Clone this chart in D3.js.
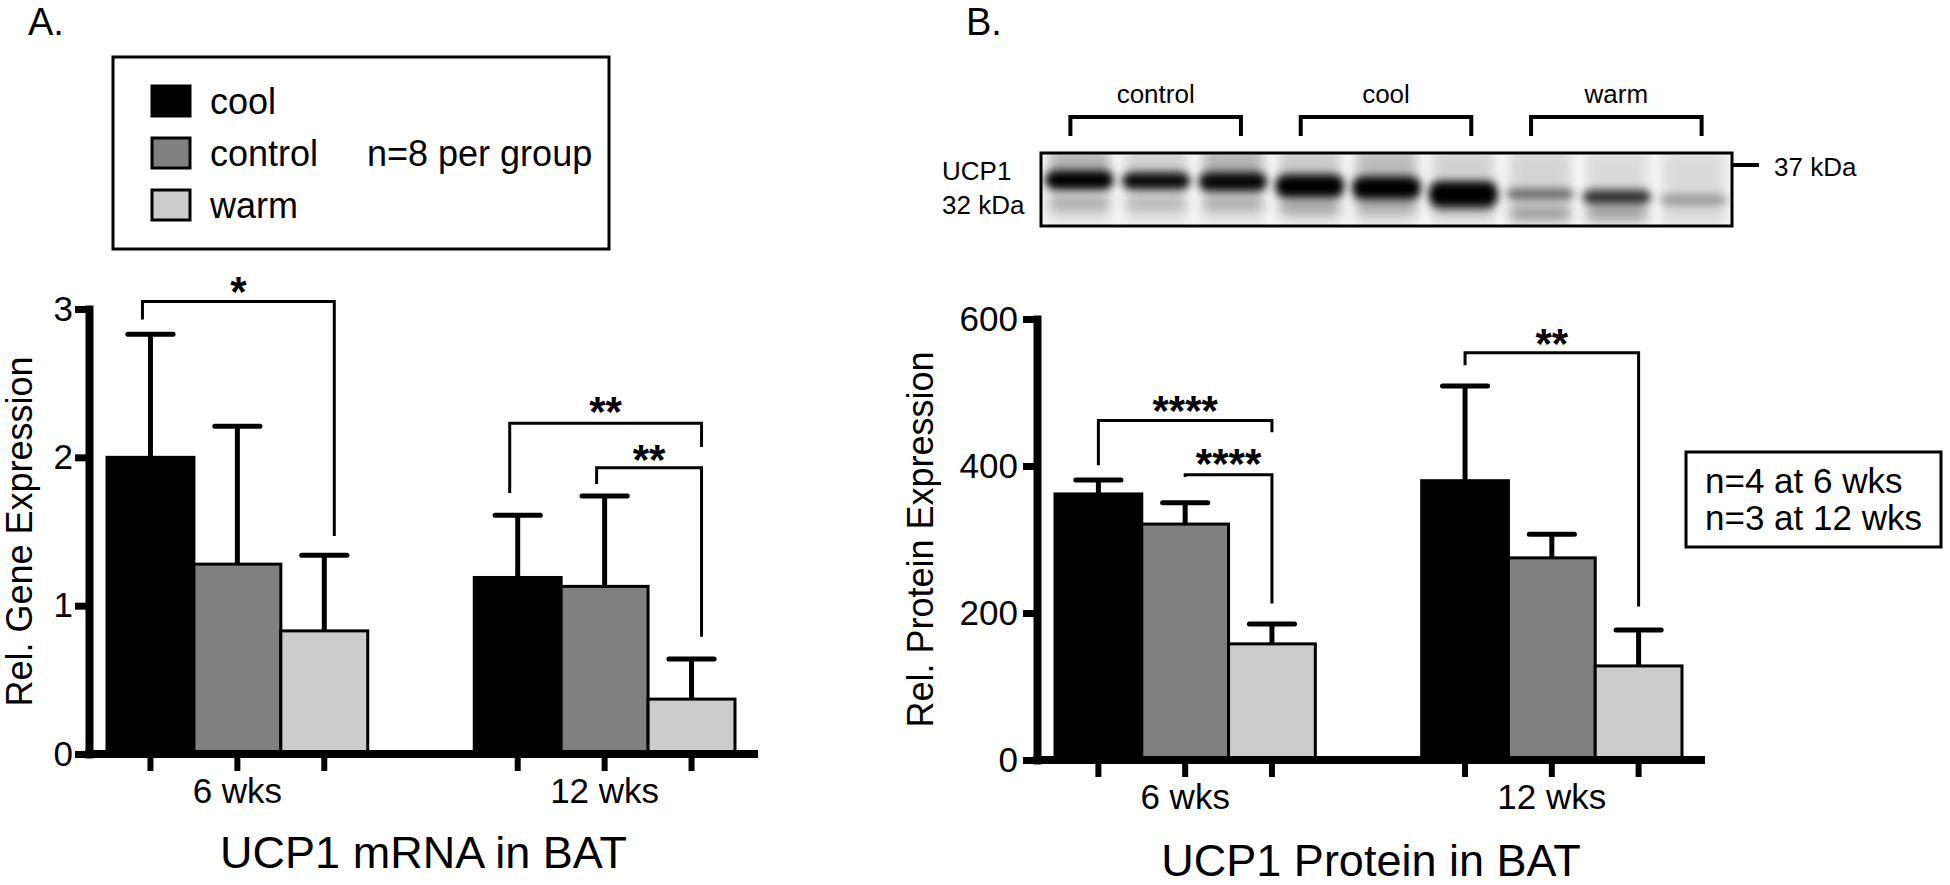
<!DOCTYPE html>
<meta charset="utf-8">
<html>

<head>
  <title>UCP1 in BAT</title>
  <style>
    body { margin: 0; background: #fff; }
    svg text { font-family: "Liberation Sans", Arial, Helvetica, sans-serif; fill: #000; }
  </style>
</head>

<body>
  <script src="https://d3js.org/d3.v7.min.js"></script>

  <div id="chart"></div>

  <script>
    // groups and treatments (same order in both panels)
    var groups = ["6 wks", "12 wks"];
    var conditions = ["cool", "control", "warm"];

    // A. UCP1 mRNA, mean and SEM ([6 wks], [12 wks])
    var mrnaMean = [[2.0, 1.28, 0.83], [1.19, 1.13, 0.37]];
    var mrnaSem = [[0.83, 0.93, 0.51], [0.42, 0.61, 0.27]];
    var mrnaTicks = [0, 1, 2, 3];

    // B. UCP1 protein
    var protMean = [[362, 321, 158], [380, 275, 128]];
    var protSem = [[19, 29, 27], [129, 32, 49]];
    var protTicks = [0, 200, 400, 600];

    // significance brackets (heights in data units)
    var mrnaSig = [
      { g: "6 wks", a: "cool", b: "warm", top: 3.05, endA: 2.93, endB: 1.47, star: 3.18, label: "*" },
      { g: "12 wks", a: "cool", b: "warm", top: 2.23, endA: 1.76, endB: 2.07, star: 2.37, label: "**" },
      { g: "12 wks", a: "control", b: "warm", top: 1.93, endA: 1.82, endB: 0.79, star: 2.05, label: "**" }
    ];
    var protSig = [
      { g: "6 wks", a: "cool", b: "warm", top: 462, endA: 401, endB: 446, star: 489, label: "****" },
      { g: "6 wks", a: "control", b: "warm", top: 388, endA: 385, endB: 213, star: 417, label: "****" },
      { g: "12 wks", a: "cool", b: "warm", top: 554, endA: 537, endB: 209, star: 579, label: "**" }
    ];

    // western blot lanes (apparent kDa of bands, relative darkness)
    var blotGroups = ["control", "cool", "warm"];
    var laneGroup = ["control", "control", "control", "cool", "cool", "cool", "warm", "warm", "warm"];
    var bandKda = [32.3, 32.0, 31.7, 30.4, 29.8, 27.9, 27.9, 27.0, 26.1];
    var bandSpread = [6.0, 5.4, 6.0, 7.2, 7.2, 8.0, 3.4, 4.6, 3.4];
    var bandDark = [1.0, 0.95, 0.97, 1.0, 1.0, 1.0, 0.55, 0.78, 0.32];
    var lowKda = [25.0, 25.0, 25.0, 24.0, 24.0, 24.0, 22.0, 22.0, 22.0];
    var lowDark = [0.3, 0.24, 0.3, 0.34, 0.32, 0.3, 0.38, 0.36, 0.06];
    var smearDark = [0.34, 0.14, 0.34, 0.18, 0.28, 0.12, 0.1, 0.06, 0.06];

    var svg = d3.select("#chart")
      .append("svg")
      .attr("width", 1950)
      .attr("height", 885);

    var fillColor = d3.scaleOrdinal().domain(conditions).range(["#000000", "#808080", "#cccccc"]);

    function drawPanel(p) {
      var g = svg.append("g");

      var y = d3.scaleLinear()
        .domain([0, p.ticks[p.ticks.length - 1]])
        .range([p.bottom, p.top]);
      var x0 = d3.scaleBand()
        .domain(groups)
        .range([p.left + 18, p.right - 23])
        .paddingInner(0.29);
      var x1 = d3.scaleBand()
        .domain(conditions)
        .range([0, x0.bandwidth()]);

      var rows = [];
      groups.forEach(function (gr, i) {
        conditions.forEach(function (c, j) {
          rows.push({ g: gr, c: c, m: p.mean[i][j], s: p.sem[i][j] });
        });
      });
      function cx(gr, c) { return x0(gr) + x1(c) + x1.bandwidth() / 2; }

      // bars
      g.selectAll("rect.bar")
        .data(rows)
        .enter()
        .append("rect")
        .attr("class", "bar")
        .attr("x", function (d) { return x0(d.g) + x1(d.c); })
        .attr("width", x1.bandwidth())
        .attr("y", function (d) { return y(d.m); })
        .attr("height", function (d) { return p.bottom - y(d.m); })
        .attr("fill", function (d) { return fillColor(d.c); })
        .attr("stroke", "#000")
        .attr("stroke-width", 3);

      // error bars (upper only)
      g.selectAll("line.stem")
        .data(rows)
        .enter()
        .append("line")
        .attr("x1", function (d) { return cx(d.g, d.c); })
        .attr("x2", function (d) { return cx(d.g, d.c); })
        .attr("y1", function (d) { return y(d.m); })
        .attr("y2", function (d) { return y(d.m + d.s); })
        .attr("stroke", "#000")
        .attr("stroke-width", 5);
      g.selectAll("line.cap")
        .data(rows)
        .enter()
        .append("line")
        .attr("x1", function (d) { return cx(d.g, d.c) - x1.bandwidth() * 0.26; })
        .attr("x2", function (d) { return cx(d.g, d.c) + x1.bandwidth() * 0.26; })
        .attr("y1", function (d) { return y(d.m + d.s); })
        .attr("y2", function (d) { return y(d.m + d.s); })
        .attr("stroke", "#000")
        .attr("stroke-width", 5)
        .attr("stroke-linecap", "round");

      // y axis
      var yAxis = g.append("g")
        .attr("transform", "translate(" + p.left + ",0)")
        .call(d3.axisLeft(y).tickValues(p.ticks).tickSize(14).tickSizeOuter(0)
          .tickPadding(p.tickPad).tickFormat(d3.format("d")));
      yAxis.select(".domain").attr("stroke-width", 8).attr("stroke-linecap", "square");
      yAxis.selectAll(".tick line").attr("stroke-width", 7);
      yAxis.selectAll(".tick text")
        .attr("font-size", 35)
        .attr("font-family", "Liberation Sans, Arial, sans-serif");

      // x axis: baseline, ticks under every bar, group labels
      g.append("line")
        .attr("x1", p.left - 4).attr("x2", p.right)
        .attr("y1", p.bottom).attr("y2", p.bottom)
        .attr("stroke", "#000").attr("stroke-width", 8);
      g.selectAll("line.xtick")
        .data(rows)
        .enter()
        .append("line")
        .attr("x1", function (d) { return cx(d.g, d.c); })
        .attr("x2", function (d) { return cx(d.g, d.c); })
        .attr("y1", p.bottom)
        .attr("y2", p.bottom + 17)
        .attr("stroke", "#000")
        .attr("stroke-width", 6);
      g.selectAll("text.group")
        .data(groups)
        .enter()
        .append("text")
        .attr("x", function (d) { return x0(d) + x0.bandwidth() / 2; })
        .attr("y", p.groupY)
        .attr("text-anchor", "middle")
        .attr("font-size", 35)
        .text(function (d) { return d; });

      // y label and title
      g.append("text")
        .attr("transform", "translate(" + p.ylabelX + "," + (p.top + p.bottom) / 2 + ") rotate(-90)")
        .attr("text-anchor", "middle")
        .attr("font-size", 36)
        .text(p.ylabel);
      g.append("text")
        .attr("x", (p.left + p.right) / 2)
        .attr("y", p.titleY)
        .attr("text-anchor", "middle")
        .attr("font-size", 45)
        .text(p.title);

      // significance brackets
      g.selectAll("path.sig")
        .data(p.sig)
        .enter()
        .append("path")
        .attr("d", function (d) {
          var xa = cx(d.g, d.a) + p.brL, xb = cx(d.g, d.b) + p.brR;
          return "M" + xa + "," + y(d.endA) + "V" + y(d.top) + "H" + xb + "V" + y(d.endB);
        })
        .attr("fill", "none")
        .attr("stroke", "#000")
        .attr("stroke-width", 3);
      g.selectAll("text.star")
        .data(p.sig)
        .enter()
        .append("text")
        .attr("x", function (d) { return (cx(d.g, d.a) + p.brL + cx(d.g, d.b) + p.brR) / 2; })
        .attr("y", function (d) { return y(d.star) + 24; })
        .attr("text-anchor", "middle")
        .attr("font-size", 42)
        .attr("font-weight", "bold")
        .text(function (d) { return d.label; });
    }

    drawPanel({
      mean: mrnaMean, sem: mrnaSem, ticks: mrnaTicks, sig: mrnaSig,
      left: 89, right: 758, top: 309, bottom: 754, tickPad: 2,
      brL: -8, brR: 10, groupY: 803, ylabelX: 32, titleY: 868,
      ylabel: "Rel. Gene Expression", title: "UCP1 mRNA in BAT"
    });
    drawPanel({
      mean: protMean, sem: protSem, ticks: protTicks, sig: protSig,
      left: 1037, right: 1705, top: 319, bottom: 760, tickPad: 5,
      brL: 0, brR: 0, groupY: 809, ylabelX: 933, titleY: 876,
      ylabel: "Rel. Protein Expression", title: "UCP1 Protein in BAT"
    });

    // panel letters
    svg.append("text").attr("x", 28).attr("y", 35).attr("font-size", 38).text("A.");
    svg.append("text").attr("x", 966).attr("y", 35).attr("font-size", 38).text("B.");

    // legend of panel A
    var legY = d3.scalePoint().domain(conditions).range([101, 205]);
    var leg = svg.append("g");
    leg.append("rect")
      .attr("x", 113).attr("y", 57).attr("width", 496).attr("height", 192)
      .attr("fill", "none").attr("stroke", "#000").attr("stroke-width", 3);
    leg.selectAll("rect.sw")
      .data(conditions)
      .enter()
      .append("rect")
      .attr("x", 152).attr("y", function (d) { return legY(d) - 15; })
      .attr("width", 38).attr("height", 30)
      .attr("fill", function (d) { return fillColor(d); })
      .attr("stroke", "#000").attr("stroke-width", 3);
    leg.selectAll("text.lg")
      .data(conditions)
      .enter()
      .append("text")
      .attr("x", 210).attr("y", function (d) { return legY(d) + 13; })
      .attr("font-size", 36)
      .text(function (d) { return d; });
    leg.append("text").attr("x", 367).attr("y", legY("control") + 13).attr("font-size", 36).text("n=8 per group");

    // n box of panel B
    svg.append("rect")
      .attr("x", 1686).attr("y", 452).attr("width", 255).attr("height", 95)
      .attr("fill", "none").attr("stroke", "#000").attr("stroke-width", 3);
    svg.append("text").attr("x", 1705).attr("y", 493).attr("font-size", 35).text("n=4 at 6 wks");
    svg.append("text").attr("x", 1705).attr("y", 530).attr("font-size", 35).text("n=3 at 12 wks");

    // western blot
    var blot = { left: 1041, right: 1732, top: 153, bottom: 226 };
    var lane = d3.scaleBand().domain(d3.range(laneGroup.length))
      .range([blot.left, blot.right]).paddingInner(0.08).paddingOuter(0.04);
    var kda = d3.scaleLinear().domain([37, 32]).range([165, 181]);

    var defs = svg.append("defs");
    defs.append("clipPath").attr("id", "blotClip")
      .append("rect").attr("x", blot.left).attr("y", blot.top)
      .attr("width", blot.right - blot.left).attr("height", blot.bottom - blot.top);
    defs.append("filter").attr("id", "blur").attr("x", "-30%").attr("y", "-100%").attr("width", "160%").attr("height", "300%")
      .append("feGaussianBlur").attr("stdDeviation", 4.2);
    defs.append("filter").attr("id", "blurWide").attr("x", "-30%").attr("y", "-100%").attr("width", "160%").attr("height", "300%")
      .append("feGaussianBlur").attr("stdDeviation", 6);

    var bg = svg.append("g").attr("clip-path", "url(#blotClip)");
    bg.append("rect")
      .attr("x", blot.left).attr("y", blot.top)
      .attr("width", blot.right - blot.left).attr("height", blot.bottom - blot.top)
      .attr("fill", "#f6f6f6");
    var lanes = laneGroup.map(function (gr, i) { return i; });
    // faint lane shadow
    bg.selectAll("rect.lanebg")
      .data(lanes).enter().append("rect")
      .attr("x", function (i) { return lane(i) + 4; })
      .attr("y", blot.top)
      .attr("width", lane.bandwidth() - 8)
      .attr("height", blot.bottom - blot.top)
      .attr("fill", "#000").attr("opacity", 0.07)
      .attr("filter", "url(#blurWide)");
    // smear above the band
    bg.selectAll("rect.smear")
      .data(lanes).enter().append("rect")
      .attr("x", function (i) { return lane(i) + 6; })
      .attr("y", blot.top - 4)
      .attr("width", lane.bandwidth() - 12)
      .attr("height", function (i) { return kda(bandKda[i]) - blot.top; })
      .attr("fill", "#555").attr("opacity", function (i) { return smearDark[i]; })
      .attr("filter", "url(#blurWide)");
    // lower faint band
    bg.selectAll("rect.low")
      .data(lanes).enter().append("rect")
      .attr("x", function (i) { return lane(i) + 5; })
      .attr("y", function (i) { return kda(lowKda[i]) - 7; })
      .attr("width", lane.bandwidth() - 10)
      .attr("height", 14)
      .attr("rx", 6)
      .attr("fill", "#222").attr("opacity", function (i) { return lowDark[i]; })
      .attr("filter", "url(#blurWide)");
    // UCP1 band
    bg.selectAll("rect.band")
      .data(lanes).enter().append("rect")
      .attr("x", function (i) { return lane(i) + 1; })
      .attr("y", function (i) { return kda(bandKda[i] + bandSpread[i] / 2); })
      .attr("width", lane.bandwidth() - 2)
      .attr("height", function (i) { return kda(bandKda[i] - bandSpread[i] / 2) - kda(bandKda[i] + bandSpread[i] / 2); })
      .attr("rx", 10)
      .attr("fill", "#000").attr("opacity", function (i) { return bandDark[i]; })
      .attr("filter", "url(#blur)");

    svg.append("rect")
      .attr("x", blot.left).attr("y", blot.top)
      .attr("width", blot.right - blot.left).attr("height", blot.bottom - blot.top)
      .attr("fill", "none").attr("stroke", "#000").attr("stroke-width", 3);

    // lane group brackets and labels above the blot
    var gb = svg.append("g");
    blotGroups.forEach(function (gr) {
      var idx = lanes.filter(function (i) { return laneGroup[i] === gr; });
      var xa = lane(idx[0]) + lane.bandwidth() / 2 - 9;
      var xb = lane(idx[idx.length - 1]) + lane.bandwidth() / 2 + 8;
      gb.append("path")
        .attr("d", "M" + xa + ",136V117H" + xb + "V136")
        .attr("fill", "none").attr("stroke", "#000").attr("stroke-width", 4);
      gb.append("text")
        .attr("x", (xa + xb) / 2).attr("y", 103)
        .attr("text-anchor", "middle").attr("font-size", 26)
        .text(gr);
    });

    // size marker and labels
    svg.append("line")
      .attr("x1", blot.right).attr("x2", blot.right + 27)
      .attr("y1", kda(37)).attr("y2", kda(37))
      .attr("stroke", "#000").attr("stroke-width", 4);
    svg.append("text").attr("x", 1774).attr("y", kda(37) + 11).attr("font-size", 26).text("37 kDa");
    svg.append("text").attr("x", 942).attr("y", 180).attr("font-size", 26).text("UCP1");
    svg.append("text").attr("x", 942).attr("y", 214).attr("font-size", 26).text("32 kDa");
  </script>
</body>

</html>
